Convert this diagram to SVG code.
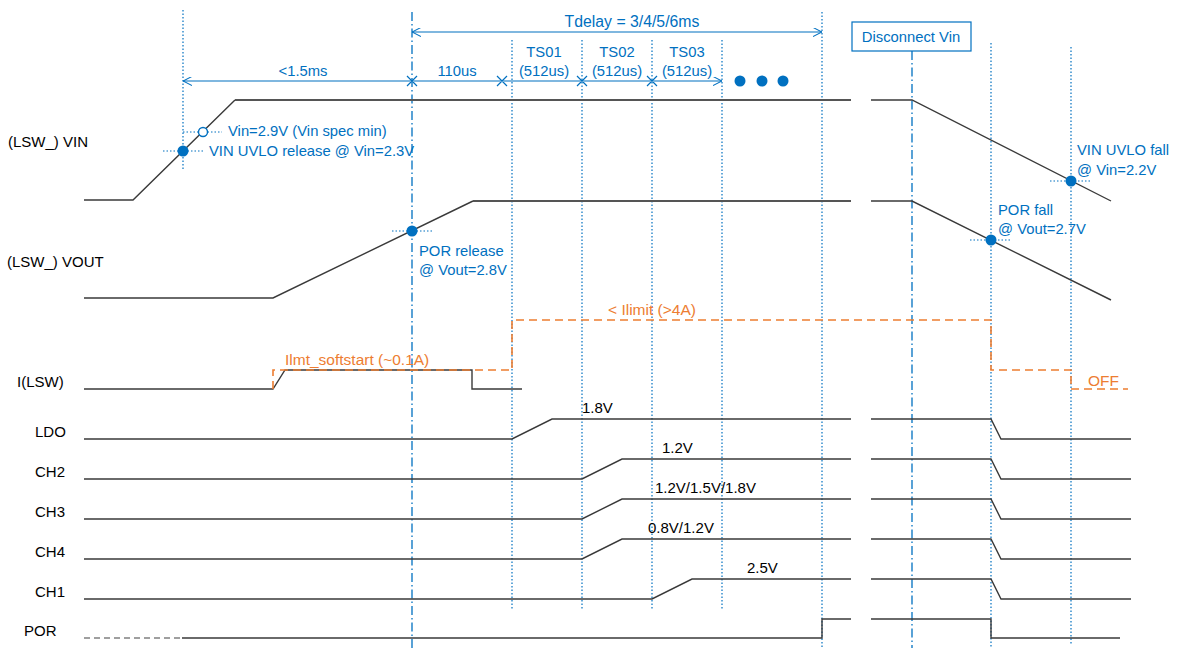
<svg xmlns="http://www.w3.org/2000/svg" width="1178" height="648" viewBox="0 0 1178 648">
<defs>
<style>
.sig{fill:none;stroke:#3a3a3a;stroke-width:1.4}
.hi{stroke:#555;stroke-width:1.8}
.dot{stroke:#0070C0;stroke-width:1.2;stroke-dasharray:1.5,2;fill:none}
.dd{stroke:#0070C0;stroke-width:1.3;stroke-dasharray:9,3,1.5,3;fill:none}
.dim{stroke:#0070C0;stroke-width:1.2;fill:none}
.or{stroke:#ED7D31;stroke-width:1.6;stroke-dasharray:8,5;fill:none}
.lbl{font-family:"Liberation Sans",Arial,sans-serif;font-size:15px;fill:#000}
.blue{font-family:"Liberation Sans",Arial,sans-serif;font-size:14.8px;fill:#0070C0}
.orange{font-family:"Liberation Sans",Arial,sans-serif;font-size:15.5px;fill:#ED7D31}
.pt{fill:#0070C0}
</style>
<marker id="arr" markerUnits="userSpaceOnUse" viewBox="0 0 10 10" refX="10" refY="5" markerWidth="9" markerHeight="9" orient="auto-start-reverse">
<path d="M0,0 L10,5 L0,10" fill="none" stroke="#0070C0" stroke-width="1.2"/>
</marker>
</defs>
<rect width="1178" height="648" fill="#fff"/>

<g id="guides">
<line class="dot" x1="183" y1="10" x2="183" y2="170"/>
<line class="dd" x1="412" y1="12" x2="412" y2="648"/>
<line class="dot" x1="512" y1="40" x2="512" y2="610"/>
<line class="dot" x1="582" y1="40" x2="582" y2="610"/>
<line class="dot" x1="652" y1="40" x2="652" y2="610"/>
<line class="dot" x1="722" y1="40" x2="722" y2="610"/>
<line class="dot" x1="822" y1="12" x2="822" y2="648"/>
<line class="dd" x1="912" y1="51" x2="912" y2="648"/>
<line class="dot" x1="991" y1="43" x2="991" y2="648"/>
<line class="dot" x1="1071" y1="47" x2="1071" y2="644"/>
</g>

<g id="connectors">
<line class="dim" x1="412" y1="32" x2="822" y2="32" marker-start="url(#arr)" marker-end="url(#arr)"/>
<line class="dim" x1="183" y1="81" x2="722" y2="81" marker-start="url(#arr)" marker-end="url(#arr)"/>
<path class="dim" d="M407,76 l10,10 m0,-10 l-10,10 M497,76 l10,10 m0,-10 l-10,10 M577,76 l10,10 m0,-10 l-10,10 M647,76 l10,10 m0,-10 l-10,10"/>
<circle class="pt" cx="740" cy="81" r="5.5"/>
<circle class="pt" cx="762" cy="81" r="5.5"/>
<circle class="pt" cx="783" cy="81" r="5.5"/>
</g>

<g id="timing-labels">
<text class="blue" x="632" y="27" text-anchor="middle" style="font-size:15.8px">Tdelay = 3/4/5/6ms</text>
<text class="blue" x="303" y="76" text-anchor="middle">&lt;1.5ms</text>
<text class="blue" x="457" y="76" text-anchor="middle">110us</text>
<text class="blue" x="544" y="57" text-anchor="middle">TS01</text>
<text class="blue" x="544" y="76" text-anchor="middle">(512us)</text>
<text class="blue" x="617" y="57" text-anchor="middle">TS02</text>
<text class="blue" x="617" y="76" text-anchor="middle">(512us)</text>
<text class="blue" x="687" y="57" text-anchor="middle">TS03</text>
<text class="blue" x="687" y="76" text-anchor="middle">(512us)</text>
</g>

<g id="disconnect-vin">
<rect x="852" y="22" width="119" height="29" fill="#fff" stroke="#0070C0" stroke-width="1.2"/>
<text class="blue" x="911" y="42" text-anchor="middle">Disconnect Vin</text>
</g>

<g id="row-labels">
<text class="lbl" x="8" y="147">(LSW_) VIN</text>
<text class="lbl" x="7" y="267">(LSW_) VOUT</text>
<text class="lbl" x="17" y="387">I(LSW)</text>
<text class="lbl" x="35" y="437">LDO</text>
<text class="lbl" x="35" y="477">CH2</text>
<text class="lbl" x="35" y="517">CH3</text>
<text class="lbl" x="35" y="557">CH4</text>
<text class="lbl" x="35" y="597">CH1</text>
<text class="lbl" x="24" y="636">POR</text>
</g>

<g id="vin">
<path class="sig" d="M84,200 L133,200 L235,100"/>
<path class="sig hi" d="M235,100 L851,100"/>
<path class="sig" d="M871,100 L912,100 L1111,201"/>
<line class="dot" x1="183" y1="132" x2="222" y2="132"/>
<line class="dot" x1="163" y1="151" x2="203" y2="151"/>
<circle cx="203" cy="132" r="4.5" fill="#fff" stroke="#0070C0" stroke-width="1.4"/>
<circle class="pt" cx="183" cy="151" r="5.5"/>
<text class="blue" x="228" y="136">Vin=2.9V (Vin spec min)</text>
<text class="blue" x="209" y="156">VIN UVLO release @ Vin=2.3V</text>
<line class="dot" x1="1050" y1="181" x2="1091" y2="181"/>
<circle class="pt" cx="1071" cy="181" r="5.5"/>
<text class="blue" x="1077" y="155">VIN UVLO fall</text>
<text class="blue" x="1077" y="175">@ Vin=2.2V</text>
</g>

<g id="vout">
<path class="sig" d="M84,298 L273,298 L473,201"/>
<path class="sig hi" d="M473,201 L851,201"/>
<path class="sig" d="M871,201 L912,201 L1111,300"/>
<line class="dot" x1="392" y1="231" x2="432" y2="231"/>
<circle class="pt" cx="412" cy="231" r="5.5"/>
<text class="blue" x="419" y="256">POR release</text>
<text class="blue" x="419" y="275">@ Vout=2.8V</text>
<line class="dot" x1="970" y1="240" x2="1011" y2="240"/>
<circle class="pt" cx="991" cy="240" r="5.5"/>
<text class="blue" x="998" y="215">POR fall</text>
<text class="blue" x="998" y="234">@ Vout=2.7V</text>
</g>

<g id="ilsw">
<path class="sig" d="M84,389 L273,389 L285,370 L472,370 L472,389 L522,389"/>
<path class="or" d="M273,389 L273,370 L512,370 L512,320 L991,320 L991,370 L1071,370 L1071,389 L1128,389"/>
<text class="orange" x="285" y="365">Ilmt_softstart (~0.1A)</text>
<text class="orange" x="652" y="315" text-anchor="middle">&lt; Ilimit (&gt;4A)</text>
<text class="orange" x="1088" y="386">OFF</text>
</g>

<g id="ldo">
<path class="sig" d="M84,439 L512,439 L552,419 L851,419"/>
<path class="sig" d="M871,419 L991,419 L1001,439 L1131,439"/>
<text class="lbl" x="582" y="413">1.8V</text>
</g>
<g id="ch2">
<path class="sig" d="M84,479 L582,479 L622,459 L851,459"/>
<path class="sig" d="M871,459 L991,459 L1001,479 L1131,479"/>
<text class="lbl" x="662" y="453">1.2V</text>
</g>
<g id="ch3">
<path class="sig" d="M84,519 L582,519 L622,499 L851,499"/>
<path class="sig" d="M871,499 L991,499 L1001,519 L1131,519"/>
<text class="lbl" x="655" y="493">1.2V/1.5V/1.8V</text>
</g>
<g id="ch4">
<path class="sig" d="M84,559 L582,559 L622,539 L851,539"/>
<path class="sig" d="M871,539 L991,539 L1001,559 L1131,559"/>
<text class="lbl" x="648" y="533">0.8V/1.2V</text>
</g>
<g id="ch1">
<path class="sig" d="M84,599 L652,599 L692,579 L851,579"/>
<path class="sig" d="M871,579 L991,579 L1001,599 L1131,599"/>
<text class="lbl" x="747" y="573">2.5V</text>
</g>
<g id="por">
<line x1="84" y1="638" x2="182" y2="638" stroke="#808080" stroke-width="1.4" stroke-dasharray="6,4"/>
<path class="sig" d="M182,638 L822,638 L822,619 L851,619"/>
<path class="sig" d="M871,619 L991,619 L991,638 L1120,638"/>
</g>
</svg>
